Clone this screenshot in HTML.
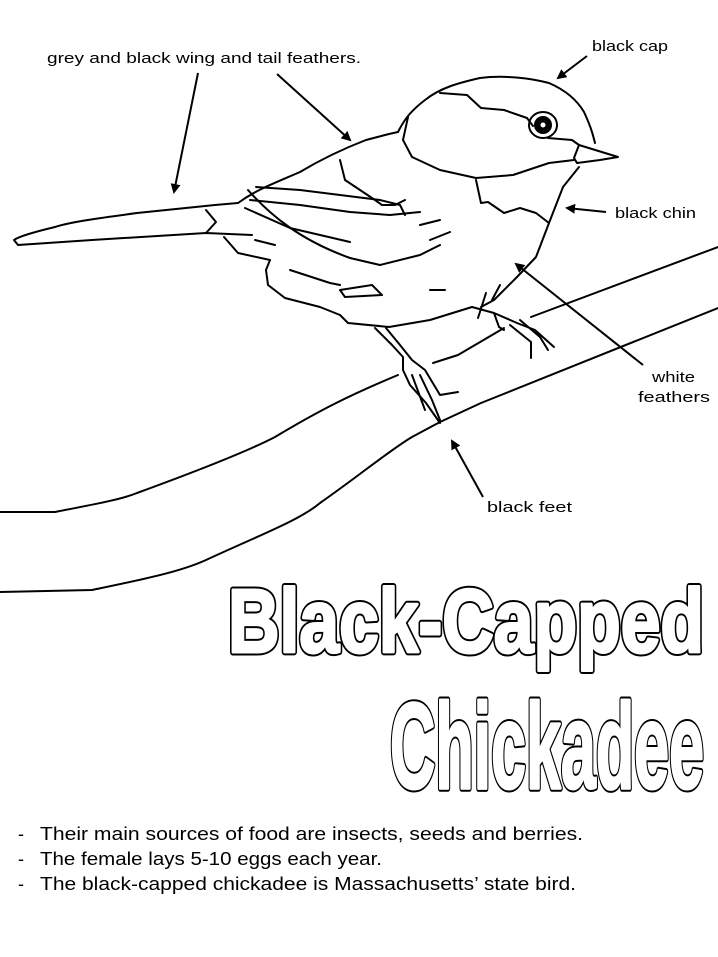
<!DOCTYPE html>
<html><head><meta charset="utf-8"><style>
html,body{margin:0;padding:0;background:#fff;width:718px;height:957px;overflow:hidden}
svg{display:block}
text{font-family:"Liberation Sans",sans-serif;fill:#000}
</style></head><body>
<svg width="718" height="957" viewBox="0 0 718 957" xmlns="http://www.w3.org/2000/svg">
<defs><marker id="ah" markerWidth="10" markerHeight="10" refX="8" refY="5" orient="auto" markerUnits="userSpaceOnUse"><path d="M0,0 L10,5 L0,10 Z" fill="#000"/></marker></defs>
<g fill="none" stroke="#000" stroke-width="2" stroke-linejoin="round" stroke-linecap="round">
<path d="M0,512 L55,512 C90,505 120,500 137,493 C200,470 250,450 275,437 C320,410 350,395 398,375"/>
<path d="M433,363 L458,355 L504,328"/>
<path d="M531,317 L718,247"/>
<path d="M0,592 L92,590 C140,580 180,572 206,560 C260,535 300,520 320,503 C360,475 390,450 412,437 L440,422 L481,403 L718,308"/>
<path d="M398,132 C405,118 412,110 425,100 C440,88 458,83 480,78 C504,75 530,78 549,83 C565,90 577,100 584,112 C591,127 593,135 595,143"/>
<path d="M579,145 L618,157 L600,160 L577,163 L574,158 Z"/>
<path d="M440,93 L467,95 L481,108 L504,110 L527,118 L533,126 M548,138 L572,140 L579,145"/>
<ellipse cx="543" cy="125" rx="14" ry="13"/>
<path d="M408,117 L403,140 L412,157 L440,170 L476,178 L513,175 L549,163 L574,160"/>
<path d="M579,167 L563,187 L549,223 L536,257 L517,277 L494,300 L481,307"/>
<path d="M476,180 L481,203 L488,202 L504,213 L520,208 L536,213 L549,223"/>
<path d="M398,132 L389,134 L366,140 C340,150 320,160 300,172 C270,185 256,190 238,203"/>
<path d="M238,203 L215,205 L137,213 C100,218 70,222 55,227 C30,233 18,237 14,240 L18,245 L92,240 L206,233 L252,235"/>
<path d="M206,210 L216,222 L206,233"/>
<path d="M224,237 L238,253 L270,260 L266,270 L268,285 L285,298 L320,307 L340,315 L348,323 L389,327 L430,320 L472,307"/>
<path d="M248,190 C270,215 300,240 350,258 L380,265 L420,255 L440,245"/>
<path d="M256,187 L300,190 L340,195 L380,200 L400,205 L405,215"/>
<path d="M250,200 L300,205 L350,212 L390,215 L420,212"/>
<path d="M245,208 L290,228 L350,242"/>
<path d="M340,160 L345,180 L360,190 L375,200 L382,205 L395,205 L405,200"/>
<path d="M255,240 L275,245 M290,270 L330,283 L340,285 M340,290 L372,285 L382,295 L345,297 Z"/>
<path d="M430,240 L450,232 M420,225 L440,220 M430,290 L445,290"/>
<path d="M375,328 L392,345 L403,357 L403,370 L410,385 L426,403 L440,423"/>
<path d="M386,328 L400,345 L412,360 L425,370 L440,395 L458,392"/>
<path d="M412,375 L425,410 M420,375 L432,400 L440,420"/>
<path d="M472,307 L494,313 L499,327 L504,330 M494,313 L517,323 L535,330 L554,347 M510,325 L531,342 L531,358 M520,320 L540,337 L548,350"/>
<path d="M486,293 L478,318 M500,285 L492,300"/>
</g>
<circle cx="543" cy="125" r="9" fill="#000"/>
<circle cx="543" cy="125" r="2.5" fill="#fff"/>
<g stroke="#000" stroke-width="2" marker-end="url(#ah)">
<line x1="198" y1="73" x2="174" y2="192"/>
<line x1="277" y1="74" x2="350" y2="140"/>
<line x1="587" y1="56" x2="558" y2="78"/>
<line x1="606" y1="212" x2="567" y2="208"/>
<line x1="643" y1="365" x2="516" y2="264"/>
<line x1="483" y1="497" x2="452" y2="441"/>
</g>
<g font-size="15">
<text x="47" y="63" textLength="314" lengthAdjust="spacingAndGlyphs">grey and black wing and tail feathers.</text>
<text x="592" y="51" textLength="76" lengthAdjust="spacingAndGlyphs">black cap</text>
<text x="615" y="218" textLength="81" lengthAdjust="spacingAndGlyphs">black chin</text>
<text x="652" y="382" textLength="43" lengthAdjust="spacingAndGlyphs">white</text>
<text x="638" y="402" textLength="72" lengthAdjust="spacingAndGlyphs">feathers</text>
<text x="487" y="512" textLength="85" lengthAdjust="spacingAndGlyphs">black feet</text>
</g>
<g font-size="18">
<text x="18" y="840">-</text><text x="40" y="840" textLength="543" lengthAdjust="spacingAndGlyphs">Their main sources of food are insects, seeds and berries.</text>
<text x="18" y="865">-</text><text x="40" y="865" textLength="342" lengthAdjust="spacingAndGlyphs">The female lays 5-10 eggs each year.</text>
<text x="18" y="890">-</text><text x="40" y="890" textLength="536" lengthAdjust="spacingAndGlyphs">The black-capped chickadee is Massachusetts’ state bird.</text>
</g>
<g font-weight="bold" font-family="Liberation Sans, sans-serif" stroke-linejoin="round">
<text x="228" y="652" font-size="90" textLength="476" lengthAdjust="spacingAndGlyphs" style="fill:#000" stroke="#000" stroke-width="7">Black-Capped</text>
<text x="228" y="652" font-size="90" textLength="476" lengthAdjust="spacingAndGlyphs" style="fill:#fff" stroke="#fff" stroke-width="3">Black-Capped</text>
<text x="390" y="788" font-size="122" textLength="314" lengthAdjust="spacingAndGlyphs" style="fill:#000" stroke="#000" stroke-width="7">Chickadee</text>
<text x="390" y="788" font-size="122" textLength="314" lengthAdjust="spacingAndGlyphs" style="fill:#fff" stroke="#fff" stroke-width="3">Chickadee</text>
</g>
</svg>
</body></html>
